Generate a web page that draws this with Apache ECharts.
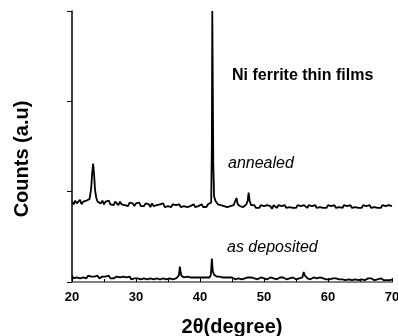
<!DOCTYPE html>
<html>
<head>
<meta charset="utf-8">
<script src="https://cdn.jsdelivr.net/npm/echarts@6/dist/echarts.min.js"></script>
<style>
  html, body { margin: 0; padding: 0; background: #fff; }
  #chart { width: 398px; height: 336px; }
</style>
</head>
<body>
<div id="chart"></div>
<script>
// 2θ positions (degree) and counts (a.u.)
const annealedTheta = [
  20,20.25,20.5,20.75, 21,21.25,21.5,21.75, 22,22.25,22.5,22.75,
  23,23.15,23.3,23.45,23.6,23.8, 24,24.25,24.5,24.75,
  25,25.25,25.5,25.75, 26,26.25,26.5,26.75, 27,27.25,27.5,27.75, 28,28.25,28.5,28.75,
  29,29.25,29.5,29.75, 30,30.25,30.5,30.75, 31,31.25,31.5,31.75, 32,32.25,32.5,32.75,
  33,33.25,33.5,33.75, 34,34.25,34.5,34.75, 35,35.25,35.5,35.75, 36,36.25,36.5,36.75,
  37,37.25,37.5,37.75, 38,38.25,38.5,38.75, 39,39.25,39.5,39.75, 40,40.25,40.5,40.75,
  41,41.25,41.5,41.75,41.85,41.92,42,42.08,42.2,42.4,42.6,42.8,
  43,43.25,43.5,43.75, 44,44.25,44.5,44.75, 45,45.25,45.5,45.7,45.9, 46.25,46.5,46.75,
  47,47.25,47.45,47.6,47.75, 48,48.25,48.5,48.75, 49,49.25,49.5,49.75,
  50,50.25,50.5,50.75, 51,51.25,51.5,51.75, 52,52.25,52.5,52.75, 53,53.25,53.5,53.75,
  54,54.25,54.5,54.75, 55,55.25,55.5,55.75, 56,56.25,56.5,56.75, 57,57.25,57.5,57.75,
  58,58.25,58.5,58.75, 59,59.25,59.5,59.75, 60,60.25,60.5,60.75, 61,61.25,61.5,61.75,
  62,62.25,62.5,62.75, 63,63.25,63.5,63.75, 64,64.25,64.5,64.75, 65,65.25,65.5,65.75,
  66,66.25,66.5,66.75, 67,67.25,67.5,67.75, 68,68.25,68.5,68.75, 69,69.25,69.5,69.75, 70
];
const annealedCounts = [
  0.89,0.86,0.90,0.87, 0.88,0.91,0.86,0.89, 0.87,0.90,0.88,0.92,
  1.04,1.20,1.31,1.19,1.02,0.93, 0.89,0.91,0.87,0.90,
  0.86,0.89,0.87,0.90, 0.86,0.88,0.85,0.89, 0.87,0.85,0.89,0.86, 0.88,0.85,0.87,0.84,
  0.88,0.86,0.87,0.84, 0.87,0.85,0.88,0.84, 0.86,0.84,0.87,0.85, 0.86,0.83,0.87,0.84,
  0.86,0.85,0.83,0.86, 0.84,0.87,0.83,0.85, 0.84,0.86,0.83,0.86, 0.84,0.85,0.83,0.86,
  0.83,0.85,0.84,0.86, 0.83,0.85,0.84,0.82, 0.86,0.83,0.85,0.84, 0.82,0.86,0.83,0.85,
  0.83,0.86,0.84,0.88,1.50,3.00,3.00,1.30,0.95,0.90,0.88,0.86,
  0.87,0.85,0.86,0.84, 0.86,0.83,0.85,0.84, 0.83,0.85,0.87,0.93,0.86, 0.84,0.85,0.83,
  0.85,0.86,0.90,0.99,0.90, 0.85,0.83,0.85,0.82, 0.84,0.82,0.85,0.83,
  0.84,0.82,0.85,0.83, 0.84,0.81,0.85,0.83, 0.82,0.85,0.83,0.84, 0.82,0.85,0.82,0.84,
  0.83,0.85,0.82,0.84, 0.82,0.85,0.83,0.84, 0.82,0.85,0.83,0.82, 0.85,0.83,0.84,0.82,
  0.85,0.82,0.84,0.83, 0.85,0.82,0.84,0.82, 0.85,0.83,0.84,0.82, 0.85,0.82,0.84,0.83,
  0.84,0.82,0.85,0.83, 0.84,0.82,0.85,0.82, 0.84,0.83,0.85,0.82, 0.84,0.82,0.85,0.83,
  0.84,0.82,0.85,0.82, 0.84,0.83,0.85,0.82, 0.84,0.82,0.85,0.83, 0.84,0.82,0.85,0.83, 0.84
];

const depositedTheta = [
  20,20.25,20.5,20.75, 21,21.25,21.5,21.75, 22,22.25,22.5,22.75, 23,23.25,23.5,23.75,
  24,24.25,24.5,24.75, 25,25.25,25.5,25.75, 26,26.25,26.5,26.75, 27,27.25,27.5,27.75,
  28,28.25,28.5,28.75, 29,29.25,29.5,29.75, 30,30.25,30.5,30.75, 31,31.25,31.5,31.75,
  32,32.25,32.5,32.75, 33,33.25,33.5,33.75, 34,34.25,34.5,34.75, 35,35.25,35.5,35.75,
  36,36.25,36.5,36.7,36.85,36.95,37.1,37.3,37.5,37.75, 38,38.25,38.5,38.75,
  39,39.25,39.5,39.75, 40,40.25,40.5,40.75, 41,41.25,41.5,41.7,41.85,42,42.2,42.4,42.6,42.8,
  43,43.25,43.5,43.75, 44,44.25,44.5,44.75, 45,45.25,45.5,45.75, 46,46.25,46.5,46.75,
  47,47.25,47.5,47.75, 48,48.25,48.5,48.75, 49,49.25,49.5,49.75, 50,50.25,50.5,50.75,
  51,51.25,51.5,51.75, 52,52.25,52.5,52.75, 53,53.25,53.5,53.75, 54,54.25,54.5,54.75,
  55,55.25,55.5,55.75, 56,56.2,56.4,56.6,56.8, 57,57.25,57.5,57.75, 58,58.25,58.5,58.75,
  59,59.25,59.5,59.75, 60,60.25,60.5,60.75, 61,61.25,61.5,61.75, 62,62.25,62.5,62.75,
  63,63.25,63.5,63.75, 64,64.25,64.5,64.75, 65,65.25,65.5,65.75, 66,66.25,66.5,66.75,
  67,67.25,67.5,67.75, 68,68.25,68.5,68.75, 69,69.25,69.5,69.75, 70
];
const depositedCounts = [
  0.07,0.04,0.06,0.05, 0.07,0.04,0.06,0.05, 0.06,0.04,0.07,0.05, 0.06,0.04,0.06,0.05,
  0.07,0.04,0.05,0.06, 0.04,0.06,0.05,0.07, 0.04,0.06,0.04,0.05, 0.06,0.04,0.05,0.03,
  0.06,0.04,0.05,0.04, 0.06,0.03,0.05,0.04, 0.06,0.04,0.05,0.03, 0.05,0.04,0.06,0.03,
  0.05,0.04,0.05,0.03, 0.05,0.04,0.06,0.03, 0.05,0.04,0.05,0.03, 0.05,0.04,0.05,0.03,
  0.05,0.04,0.05,0.07,0.17,0.12,0.07,0.06,0.05,0.04, 0.06,0.04,0.05,0.03,
  0.05,0.04,0.05,0.03, 0.05,0.04,0.05,0.03, 0.05,0.04,0.05,0.08,0.26,0.12,0.08,0.07,0.06,0.05,
  0.06,0.04,0.05,0.03, 0.05,0.04,0.05,0.03, 0.05,0.04,0.03,0.05, 0.04,0.05,0.03,0.05,
  0.04,0.03,0.05,0.04, 0.05,0.03,0.04,0.05, 0.03,0.04,0.05,0.03, 0.04,0.05,0.03,0.04,
  0.05,0.03,0.04,0.05, 0.03,0.04,0.05,0.03, 0.05,0.04,0.03,0.05, 0.04,0.03,0.05,0.04,
  0.03,0.05,0.04,0.05, 0.05,0.11,0.07,0.05,0.04, 0.05,0.03,0.04,0.05, 0.03,0.04,0.03,0.05,
  0.03,0.04,0.05,0.03, 0.04,0.03,0.05,0.04, 0.03,0.04,0.05,0.03, 0.04,0.03,0.04,0.02,
  0.04,0.03,0.04,0.02, 0.04,0.03,0.04,0.02, 0.04,0.03,0.04,0.02, 0.03,0.04,0.02,0.04,
  0.03,0.02,0.04,0.03, 0.02,0.04,0.03,0.02, 0.04,0.02,0.03,0.02, 0.03
];

const xTicks = [20, 30, 40, 50, 60, 70];

const chart = echarts.init(document.getElementById('chart'), null, { renderer: 'canvas' });
const font = '"Liberation Sans", Arial, sans-serif';

const pairs = (xs, ys) => xs.map((x, i) => [x, ys[i]]);

chart.setOption({
  animation: false,
  backgroundColor: '#fff',
  grid: { left: 72, right: 6, top: 11, bottom: 54, containLabel: false, outerBoundsMode: 'none' },
  xAxis: {
    type: 'value', min: xTicks[0], max: xTicks[xTicks.length - 1], interval: 10,
    name: '2θ(degree)', nameLocation: 'middle', nameGap: 35,
    nameTextStyle: { fontFamily: font, fontWeight: 'bold', fontSize: 20, color: '#000' },
    axisLine: { lineStyle: { color: '#808080', width: 2 } },
    axisTick: { inside: true, length: 4, lineStyle: { color: '#000' } },
    minorTick: { show: true, splitNumber: 2, length: 3, lineStyle: { color: '#000' } },
    axisLabel: { fontFamily: font, fontWeight: 'bold', fontSize: 13, color: '#000', margin: 9 },
    splitLine: { show: false }
  },
  yAxis: {
    type: 'value', min: 0, max: 3, interval: 1,
    axisLine: { show: true, lineStyle: { color: '#000', width: 1.5 } },
    axisTick: { show: true, inside: false, length: 5, lineStyle: { color: '#000' } },
    axisLabel: { show: false },
    splitLine: { show: false }
  },
  graphic: [
    { type: 'text', x: 22, y: 159, rotation: Math.PI / 2, style: { text: 'Counts (a.u)', font: 'bold 20px ' + font, fill: '#000', align: 'center', verticalAlign: 'middle' } },
    { type: 'text', x: 232, y: 76, style: { text: 'Ni ferrite thin films', font: 'bold 16px ' + font, fill: '#000', verticalAlign: 'middle' } },
    { type: 'text', x: 228, y: 164, style: { text: 'annealed', font: 'italic 16px ' + font, fill: '#000', verticalAlign: 'middle' } },
    { type: 'text', x: 227, y: 248, style: { text: 'as deposited', font: 'italic 16px ' + font, fill: '#000', verticalAlign: 'middle' } }
  ],
  series: [
    { name: 'annealed', type: 'line', data: pairs(annealedTheta, annealedCounts), showSymbol: false, lineStyle: { color: '#000', width: 1.8 }, clip: true },
    { name: 'as deposited', type: 'line', data: pairs(depositedTheta, depositedCounts), showSymbol: false, lineStyle: { color: '#000', width: 1.8 }, clip: true }
  ]
});
</script>
</body>
</html>
